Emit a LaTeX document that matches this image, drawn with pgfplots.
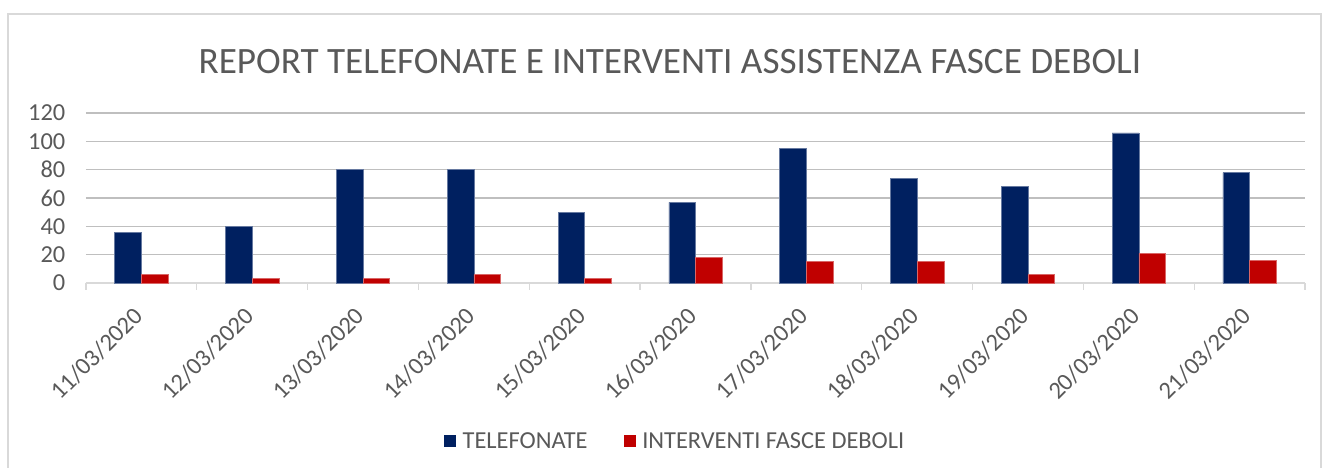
\documentclass[border=0pt]{standalone}
\usepackage{pgfplots}
\pgfplotsset{compat=1.18}
\usepackage{fontspec}
\setmainfont{Carlito}
\definecolor{navy}{HTML}{002060}
\definecolor{xred}{HTML}{C00000}
\definecolor{txt}{HTML}{595959}
\definecolor{grid}{HTML}{D9D9D9}
\begin{document}
\begin{tikzpicture}
\useasboundingbox (-64.5pt,-138.75pt) rectangle (927pt,212.25pt);
\draw[grid, line width=0.9pt] (-58.5pt,-150pt) -- (-58.5pt,201.75pt) -- (926.25pt,201.75pt) -- (926.25pt,-150pt);
\node[txt, font=\fontsize{27.9}{32}\selectfont] at (438pt,165.75pt) {REPORT TELEFONATE E INTERVENTI ASSISTENZA FASCE DEBOLI};
\begin{axis}[
  at={(0pt,0pt)}, anchor=south west,
  scale only axis, width=914.25pt, height=127.5pt,
  xmin=-0.5, xmax=10.5, ymin=0, ymax=120,
  ybar=0pt, bar width=20pt,
  ytick={0,20,...,120},
  xtick={0,...,10},
  xticklabels={11/03/2020,12/03/2020,13/03/2020,14/03/2020,15/03/2020,16/03/2020,17/03/2020,18/03/2020,19/03/2020,20/03/2020,21/03/2020},
  extra x ticks={-0.5,0.5,...,10.5},
  extra x tick labels={},
  extra x tick style={major tick length=5pt, tick align=outside, tick style={grid, line width=0.9pt}, xmajorgrids=false},
  major tick length=0pt,
  xmajorgrids=false,
  ymajorgrids, grid style={grid, line width=0.9pt},
  axis lines*=left,
  axis line style={-},
  y axis line style={draw=none},
  x axis line style={draw=grid, line width=0.9pt},
  every tick label/.append style={txt, font=\fontsize{18.3}{21}\selectfont},
  /pgf/number format/assume math mode=true,
  yticklabel style={xshift=-12pt},
  xticklabel style={xshift=-7pt, yshift=-12pt, rotate=45, anchor=north east},
  legend style={at={(0.4836,-0.93)}, anchor=center, draw=none, legend columns=-1, font=\fontsize{18.3}{21}\selectfont, text=txt, /tikz/every even column/.append style={column sep=25pt}},
  legend image code/.code={\fill[#1, draw=none] (0pt,-4.5pt) rectangle (9pt,4.5pt); \path[draw=none, fill=none] (0pt,0pt) -- (12pt,0pt);},
  ytick style={draw=none},
  clip=false,
]
\addplot[fill=navy, draw=navy!60!white, line width=0.4pt] coordinates {(0,36) (1,40) (2,80) (3,80) (4,50) (5,57) (6,95) (7,74) (8,68) (9,106) (10,78)};
\addplot[fill=xred, draw=xred!60!white, line width=0.4pt] coordinates {(0,6) (1,3) (2,3) (3,6) (4,3) (5,18) (6,15) (7,15) (8,6) (9,21) (10,16)};
\legend{TELEFONATE, INTERVENTI FASCE DEBOLI}
\end{axis}
\end{tikzpicture}
\end{document}
